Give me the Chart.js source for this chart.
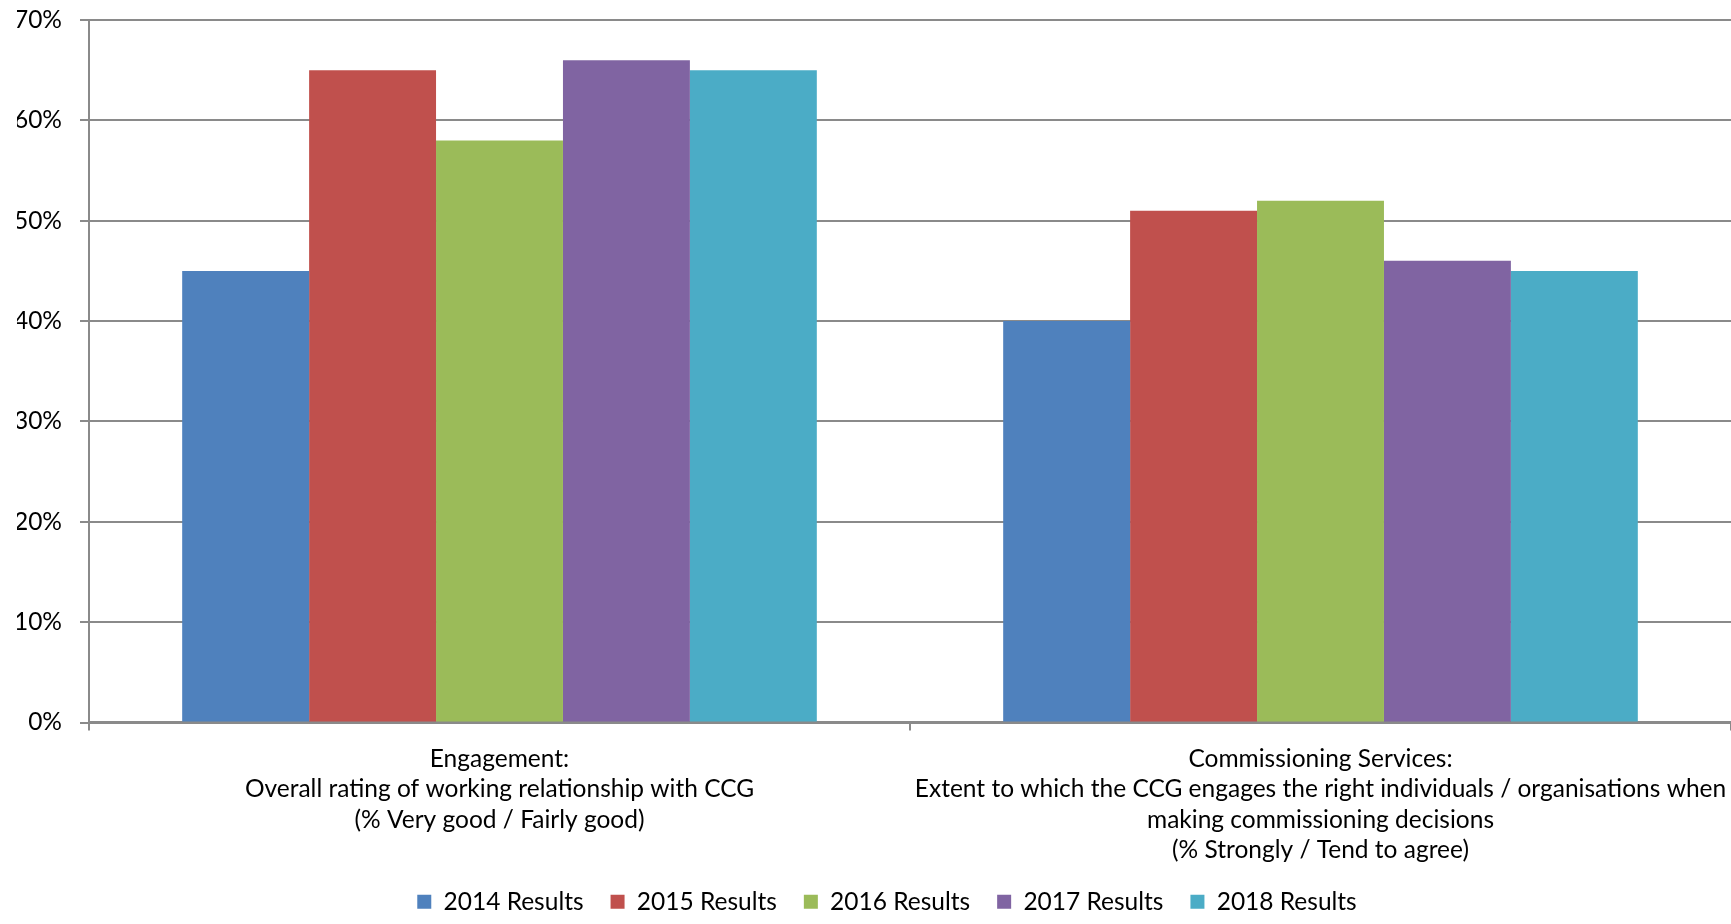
<!doctype html>
<html>
<head>
  <meta charset="utf-8" />
  <title>CCG stakeholder survey results</title>
  <style>
    html, body { margin: 0; padding: 0; background: #fff; }
    #wrap { width: 1731px; height: 924px; position: relative; }
  </style>
  <script src="https://cdn.jsdelivr.net/npm/chart.js"></script>
</head>
<body>
  <div id="wrap"><canvas id="chart"></canvas></div>
  <script>
    const categories = [
      ['Engagement:', 'Overall rating of working relationship with CCG', '(% Very good / Fairly good)'],
      ['Commissioning Services:', 'Extent to which the CCG engages the right individuals / organisations when', 'making commissioning decisions', '(% Strongly / Tend to agree)']
    ];
    const seriesNames = ['2014 Results', '2015 Results', '2016 Results', '2017 Results', '2018 Results'];
    const results2014 = [45, 40];
    const results2015 = [65, 51];
    const results2016 = [58, 52];
    const results2017 = [66, 46];
    const results2018 = [65, 45];
    const yTicks = [0, 10, 20, 30, 40, 50, 60, 70];

    const colors = ['#4F81BD', '#C0504D', '#9BBB59', '#8064A2', '#4BACC6'];
    const values = [results2014, results2015, results2016, results2017, results2018];

    const FONT = 'Lato, "Open Sans", sans-serif';
    const FONT_SIZE = 24.5;
    const AXIS_GREY = '#8a8a8a';

    // legend row sits a bit right of where chart.js centres it
    const legendNudge = {
      id: 'legendNudge',
      afterLayout(chart) {
        const lg = chart.legend;
        if (!lg) return;
        lg.left += 13; lg.right += 13;
      }
    };

    const ctx = document.getElementById('chart').getContext('2d');
    new Chart(ctx, {
      type: 'bar',
      data: {
        labels: categories,
        datasets: seriesNames.map((name, i) => ({
          label: name,
          data: values[i],
          backgroundColor: colors[i],
          borderWidth: 0,
          categoryPercentage: 0.773,
          barPercentage: 1.0
        }))
      },
      options: {
        responsive: true,
        maintainAspectRatio: false,
        animation: false,
        devicePixelRatio: 1,
        layout: { padding: { left: 17, right: 0, top: 20, bottom: 0 } },
        plugins: {
          tooltip: { enabled: false },
          legend: {
            position: 'bottom',
            labels: {
              boxWidth: 14,
              boxHeight: 14,
              padding: 27,
              color: '#000',
              font: { family: FONT, size: FONT_SIZE }
            }
          }
        },
        scales: {
          x: {
            offset: true,
            grid: {
              offset: true,
              drawOnChartArea: false,
              drawTicks: true,
              tickLength: 8,
              color: AXIS_GREY,
              lineWidth: 2
            },
            border: { color: AXIS_GREY, width: 2.5 },
            ticks: {
              color: '#000',
              padding: 13,
              maxRotation: 0,
              autoSkip: false,
              font: { family: FONT, size: FONT_SIZE, lineHeight: 30.5 / FONT_SIZE }
            },
            afterFit(scale) {
              scale.paddingLeft = 0; scale.paddingRight = 0;
              scale.height = 140;
            }
          },
          y: {
            min: 0,
            max: 70,
            afterBuildTicks(scale) { scale.ticks = yTicks.map(v => ({ value: v })); },
            afterFit(scale) {
              scale.width = 72;
              scale.paddingTop = 0; scale.paddingBottom = 0;
            },
            grid: {
              color: AXIS_GREY,
              lineWidth: 2,
              tickLength: 9
            },
            border: { color: AXIS_GREY, width: 2 },
            ticks: {
              color: '#000',
              padding: 18,
              font: { family: FONT, size: FONT_SIZE, lineHeight: 1.2 },
              callback: v => v + '%'
            }
          }
        }
      },
      plugins: [legendNudge]
    });
  </script>
</body>
</html>
